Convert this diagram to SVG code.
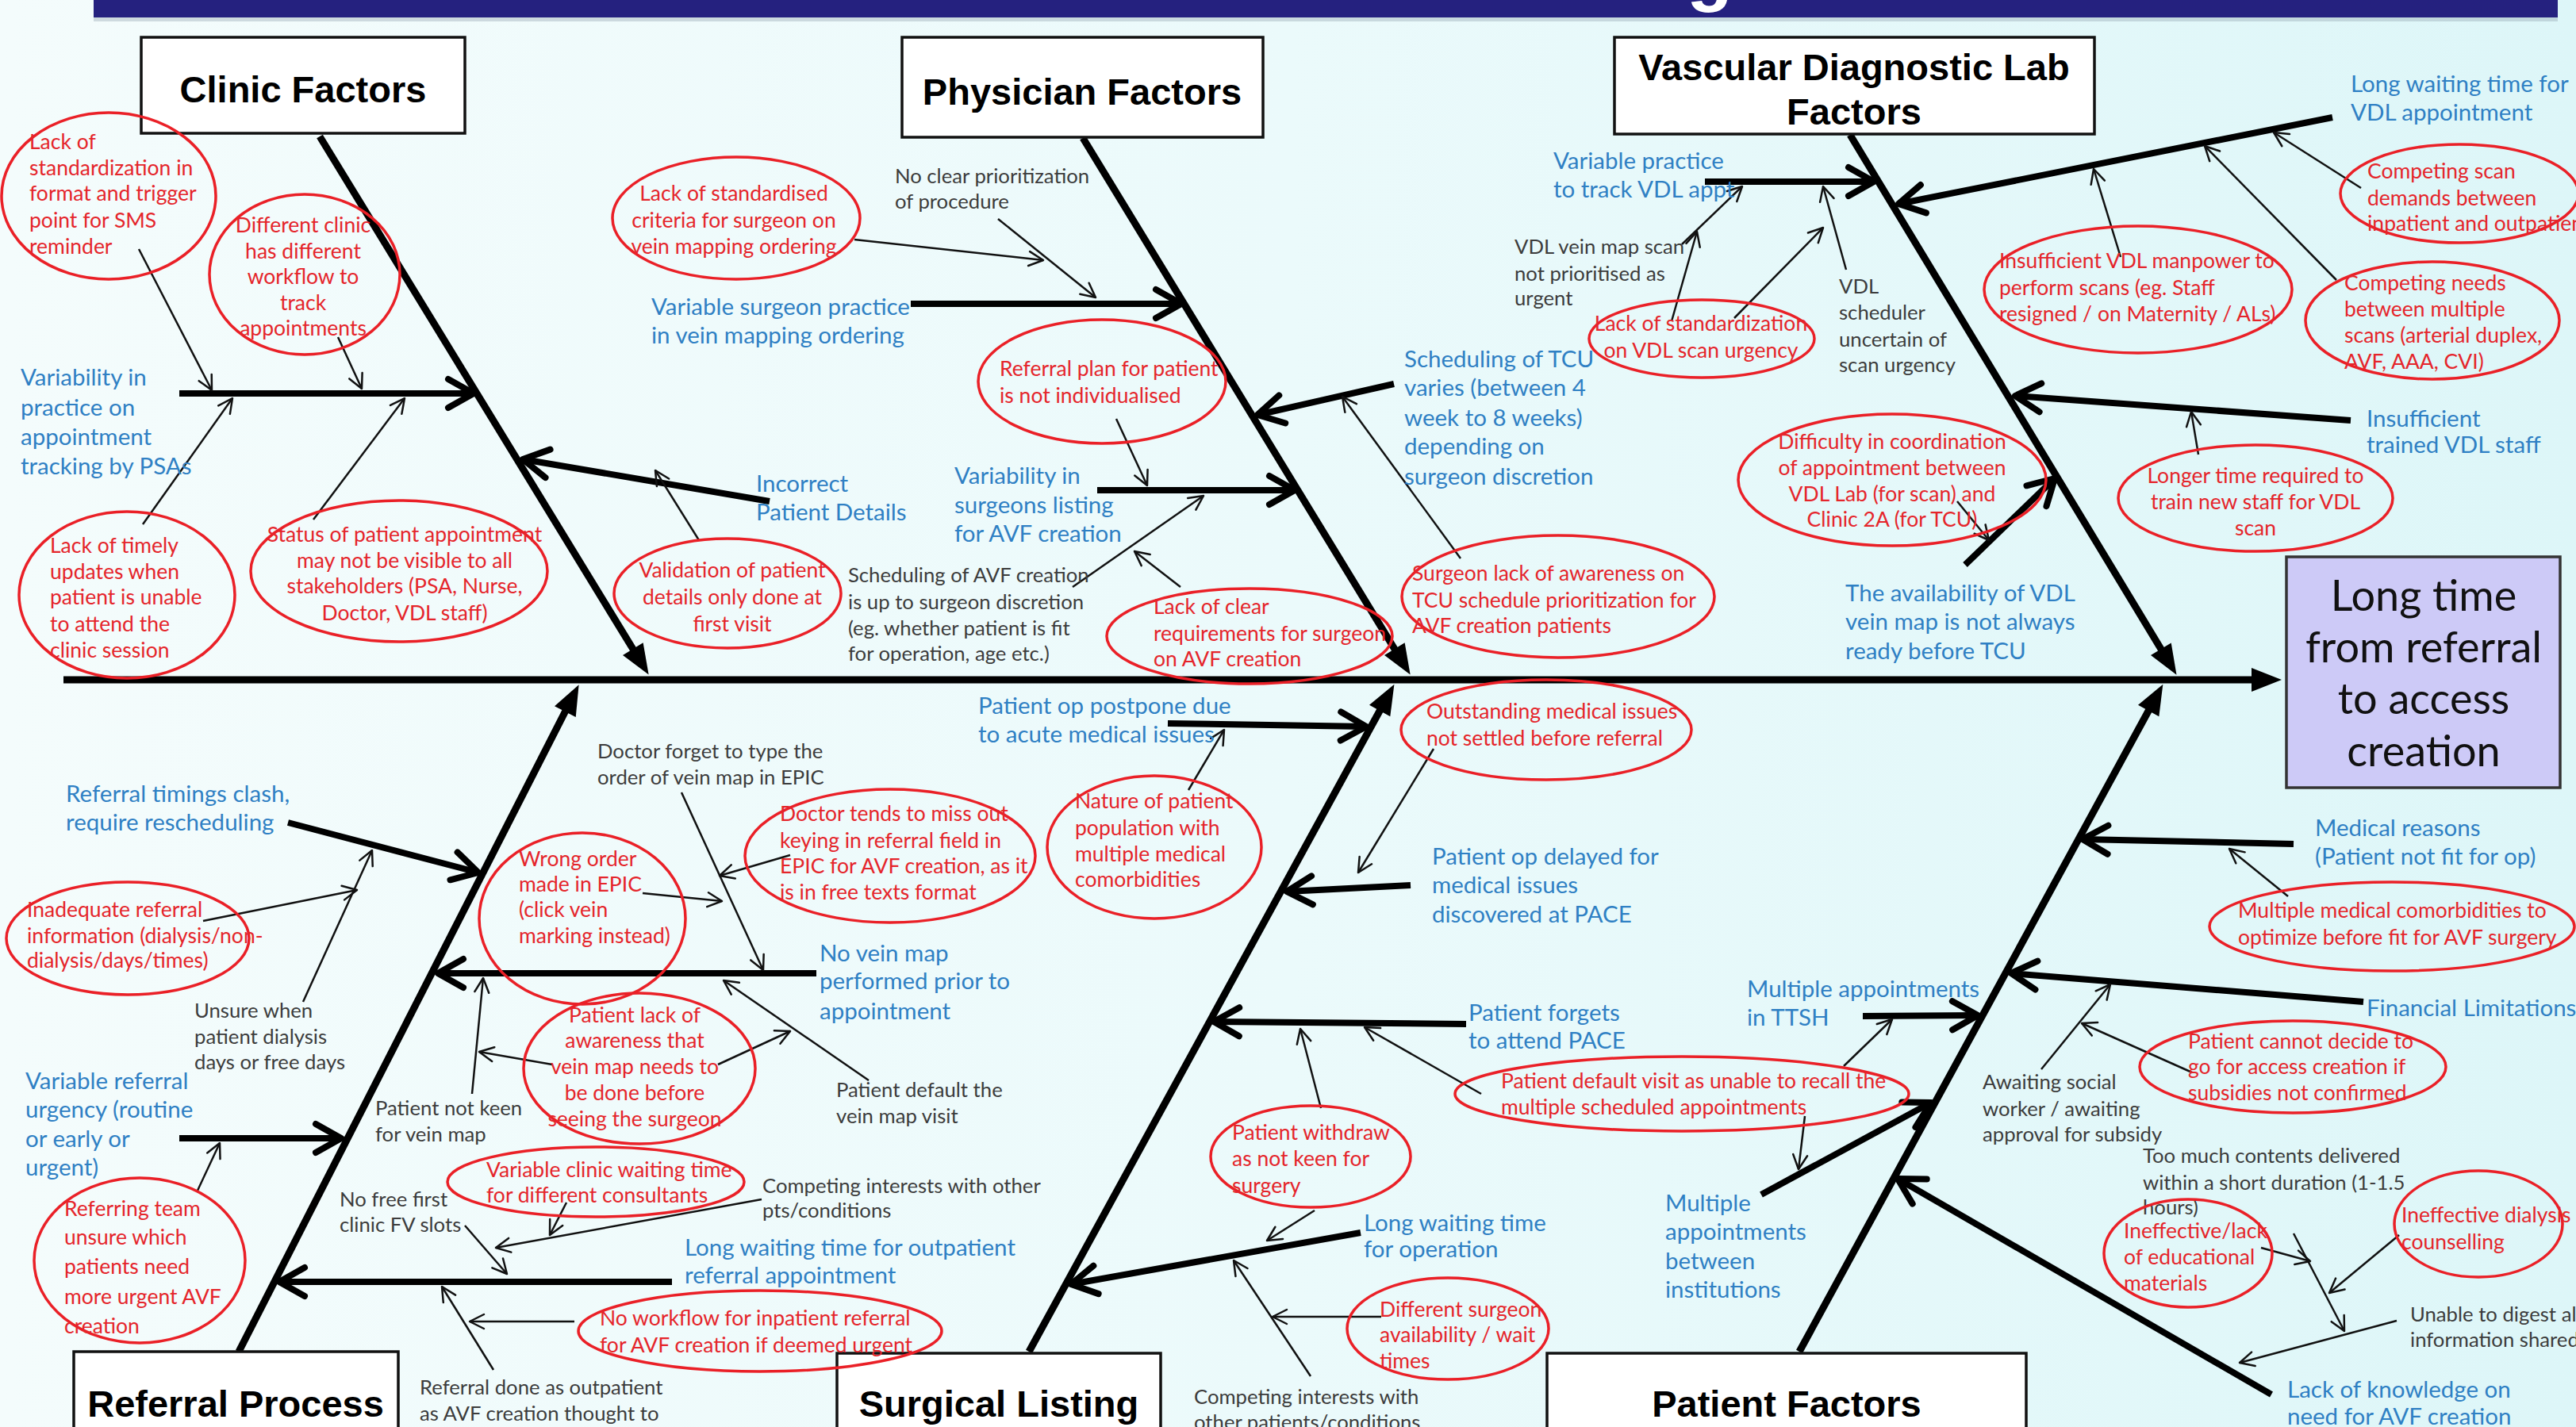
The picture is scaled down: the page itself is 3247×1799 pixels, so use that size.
<svg xmlns="http://www.w3.org/2000/svg" width="3247" height="1799" viewBox="0 0 3247 1799">
<defs>
<linearGradient id="bg" x1="0" y1="0" x2="1" y2="0">
<stop offset="0" stop-color="#f4fcfc"/><stop offset="0.5" stop-color="#ebfafb"/><stop offset="1" stop-color="#ddf6f8"/>
</linearGradient>
<marker id="hb" markerUnits="userSpaceOnUse" viewBox="-10 -18 42 36" markerWidth="42" markerHeight="36" refX="0" refY="0" orient="auto" overflow="visible"><path d="M-8,-15 L30,0 L-8,15 Z" fill="#000"/></marker>
<marker id="ht" markerUnits="userSpaceOnUse" viewBox="-40 -24 46 48" markerWidth="46" markerHeight="48" refX="0" refY="0" orient="auto" overflow="visible"><path d="M-32,-18 L0,0 L-32,18" fill="none" stroke="#000" stroke-width="8" stroke-linecap="round" stroke-linejoin="round"/></marker>
<marker id="hn" markerUnits="userSpaceOnUse" viewBox="-22 -12 26 24" markerWidth="26" markerHeight="24" refX="0" refY="0" orient="auto" overflow="visible"><path d="M-18,-9 L0,0 L-18,9" fill="none" stroke="#111" stroke-width="2.5" stroke-linecap="round" stroke-linejoin="round"/></marker>
<style>
.bone{stroke:#000;stroke-width:9;fill:none;marker-end:url(#hb)}
.thk{stroke:#000;stroke-width:8;fill:none;marker-end:url(#ht)}
.thn{stroke:#111;stroke-width:2.5;fill:none;marker-end:url(#hn)}
.box{fill:#fff;stroke:#111;stroke-width:3.5}
.ttl{font-family:"Liberation Sans",Arial,sans-serif;font-weight:bold;font-size:47px;fill:#000;text-anchor:middle}
.b{font-family:Lato,"Open Sans",sans-serif;font-size:29.5px;fill:#2f80c4}
.r{font-family:Lato,"Open Sans",sans-serif;font-size:26.5px;fill:#e5252b}
.g{font-family:Lato,"Open Sans",sans-serif;font-size:25.7px;fill:#3c3c3c}
.m{text-anchor:middle}
.e{fill:none;stroke:#ea2027;stroke-width:3.5}
.eff{font-family:Lato,"Open Sans",sans-serif;font-size:54px;fill:#111;text-anchor:middle}
</style>
</defs>
<rect x="0" y="0" width="3247" height="1799" fill="url(#bg)"/>
<g id="banner">
<rect x="118" y="22" width="3106" height="5" fill="#8a9aa8" opacity="0.35"/>
<rect x="118" y="0" width="3106" height="22" fill="#25217f"/>
<text x="2126" y="-4" font-family="Liberation Sans,Arial,sans-serif" font-weight="bold" font-size="95" fill="#fff">g</text>
</g>

<g id="connectors">
<line class="bone" x1="80" y1="857" x2="2846" y2="857"/>
<line class="bone" x1="403" y1="172" x2="802" y2="825"/>
<line class="bone" x1="1365" y1="174" x2="1762" y2="825"/>
<line class="bone" x1="2332" y1="170" x2="2728" y2="825"/>
<line class="bone" x1="301" y1="1704" x2="716" y2="890"/>
<line class="bone" x1="1297" y1="1704" x2="1743" y2="889"/>
<line class="bone" x1="2268" y1="1704" x2="2712" y2="889"/>

<line class="thk" x1="226" y1="496" x2="597" y2="496"/>
<line class="thk" x1="970" y1="632" x2="659" y2="579"/>
<line class="thk" x1="1148" y1="383" x2="1489" y2="383"/>
<line class="thk" x1="1383" y1="618" x2="1632" y2="618"/>
<line class="thk" x1="1757" y1="484" x2="1585" y2="523"/>
<line class="thk" x1="2149" y1="229" x2="2362" y2="229"/>
<line class="thk" x1="2940" y1="148" x2="2393" y2="257"/>
<line class="thk" x1="2963" y1="530" x2="2540" y2="499"/>
<line class="thk" x1="2477" y1="712" x2="2590" y2="603"/>
<line class="thk" x1="363" y1="1037" x2="603" y2="1100"/>
<line class="thk" x1="226" y1="1435" x2="430" y2="1435"/>
<line class="thk" x1="1029" y1="1227" x2="552" y2="1227"/>
<line class="thk" x1="847" y1="1616" x2="352" y2="1616"/>
<line class="thk" x1="1472" y1="912" x2="1722" y2="916"/>
<line class="thk" x1="1778" y1="1116" x2="1622" y2="1124"/>
<line class="thk" x1="1848" y1="1291" x2="1530" y2="1288"/>
<line class="thk" x1="1715" y1="1554" x2="1350" y2="1619"/>
<line class="thk" x1="2348" y1="1281" x2="2493" y2="1280"/>
<line class="thk" x1="2220" y1="1506" x2="2434" y2="1390"/>
<line class="thk" x1="2891" y1="1064" x2="2625" y2="1058"/>
<line class="thk" x1="2979" y1="1263" x2="2535" y2="1227"/>
<line class="thk" x1="2863" y1="1758" x2="2392" y2="1486"/>

<line class="thn" x1="175" y1="314" x2="267" y2="492"/>
<line class="thn" x1="426" y1="425" x2="456" y2="490"/>
<line class="thn" x1="180" y1="661" x2="293" y2="502"/>
<line class="thn" x1="395" y1="655" x2="510" y2="502"/>
<line class="thn" x1="881" y1="681" x2="826" y2="593"/>
<line class="thn" x1="1077" y1="302" x2="1315" y2="328"/>
<line class="thn" x1="1258" y1="276" x2="1381" y2="375"/>
<line class="thn" x1="1407" y1="528" x2="1446" y2="612"/>
<line class="thn" x1="1352" y1="740" x2="1517" y2="625"/>
<line class="thn" x1="1488" y1="740" x2="1430" y2="695"/>
<line class="thn" x1="1841" y1="704" x2="1692" y2="500"/>
<line class="thn" x1="2120" y1="308" x2="2196" y2="235"/>
<line class="thn" x1="2107" y1="405" x2="2139" y2="292"/>
<line class="thn" x1="2186" y1="401" x2="2298" y2="287"/>
<line class="thn" x1="2327" y1="340" x2="2298" y2="235"/>
<line class="thn" x1="2673" y1="324" x2="2639" y2="213"/>
<line class="thn" x1="2945" y1="353" x2="2779" y2="184"/>
<line class="thn" x1="2976" y1="237" x2="2866" y2="167"/>
<line class="thn" x1="2771" y1="573" x2="2762" y2="519"/>
<line class="thn" x1="2467" y1="632" x2="2507" y2="681"/>
<line class="thn" x1="256" y1="1161" x2="450" y2="1122"/>
<line class="thn" x1="382" y1="1263" x2="469" y2="1072"/>
<line class="thn" x1="248" y1="1503" x2="277" y2="1441"/>
<line class="thn" x1="859" y1="999" x2="962" y2="1223"/>
<line class="thn" x1="996" y1="1078" x2="907" y2="1104"/>
<line class="thn" x1="810" y1="1126" x2="910" y2="1136"/>
<line class="thn" x1="595" y1="1379" x2="609" y2="1233"/>
<line class="thn" x1="696" y1="1342" x2="604" y2="1326"/>
<line class="thn" x1="905" y1="1342" x2="996" y2="1300"/>
<line class="thn" x1="1095" y1="1362" x2="912" y2="1236"/>
<line class="thn" x1="586" y1="1545" x2="639" y2="1606"/>
<line class="thn" x1="960" y1="1512" x2="625" y2="1573"/>
<line class="thn" x1="714" y1="1516" x2="693" y2="1557"/>
<line class="thn" x1="622" y1="1727" x2="557" y2="1622"/>
<line class="thn" x1="724" y1="1666" x2="592" y2="1666"/>
<line class="thn" x1="1498" y1="996" x2="1543" y2="920"/>
<line class="thn" x1="1807" y1="944" x2="1712" y2="1100"/>
<line class="thn" x1="1665" y1="1397" x2="1639" y2="1297"/>
<line class="thn" x1="1867" y1="1379" x2="1720" y2="1295"/>
<line class="thn" x1="1657" y1="1526" x2="1597" y2="1564"/>
<line class="thn" x1="1741" y1="1660" x2="1604" y2="1660"/>
<line class="thn" x1="1652" y1="1735" x2="1555" y2="1589"/>
<line class="thn" x1="2324" y1="1344" x2="2385" y2="1285"/>
<line class="thn" x1="2275" y1="1407" x2="2267" y2="1474"/>
<line class="thn" x1="2884" y1="1130" x2="2810" y2="1070"/>
<line class="thn" x1="2573" y1="1348" x2="2660" y2="1241"/>
<line class="thn" x1="2763" y1="1352" x2="2624" y2="1290"/>
<line class="thn" x1="3021" y1="1665" x2="2823" y2="1718"/>
<line class="thn" x1="2891" y1="1555" x2="2955" y2="1678"/>
<line class="thn" x1="2850" y1="1573" x2="2912" y2="1590"/>
<line class="thn" x1="3024" y1="1557" x2="2936" y2="1630"/>
</g>

<g id="effect">
<rect x="2882" y="702" width="345" height="291" fill="#cdcaf7" stroke="#333" stroke-width="3.5"/>
<text class="eff" x="3055" y="770">Long time</text>
<text class="eff" x="3055" y="835">from referral</text>
<text class="eff" x="3055" y="900">to access</text>
<text class="eff" x="3055" y="966">creation</text>
</g>

<g id="cat-clinic"><rect class="box" x="178" y="47" width="408" height="121"/><text class="ttl" x="382" y="129">Clinic Factors</text></g>
<g id="cat-physician"><rect class="box" x="1137" y="47" width="455" height="126"/><text class="ttl" x="1364" y="132">Physician Factors</text></g>
<g id="cat-vdl"><rect class="box" x="2035" y="47" width="605" height="122"/><text class="ttl" x="2337" y="101">Vascular Diagnostic Lab</text><text class="ttl" x="2337" y="157">Factors</text></g>
<g id="cat-referral"><rect class="box" x="93" y="1704" width="409" height="120"/><text class="ttl" x="297" y="1786">Referral Process</text></g>
<g id="cat-surgical"><rect class="box" x="1055" y="1706" width="408" height="120"/><text class="ttl" x="1259" y="1786">Surgical Listing</text></g>
<g id="cat-patient"><rect class="box" x="1950" y="1706" width="604" height="120"/><text class="ttl" x="2252" y="1786">Patient Factors</text></g>

<g id="causes">
<text class="b" x="26" y="486">Variability in</text>
<text class="b" x="26" y="524">practice on</text>
<text class="b" x="26" y="561">appointment</text>
<text class="b" x="26" y="598">tracking by PSAs</text>
<text class="b" x="953" y="620">Incorrect</text>
<text class="b" x="953" y="656">Patient Details</text>
<text class="b" x="821" y="397">Variable surgeon practice</text>
<text class="b" x="821" y="433">in vein mapping ordering</text>
<text class="b" x="1203" y="610">Variability in</text>
<text class="b" x="1203" y="647">surgeons listing</text>
<text class="b" x="1203" y="683">for AVF creation</text>
<text class="b" x="1770" y="463">Scheduling of TCU</text>
<text class="b" x="1770" y="499">varies (between 4</text>
<text class="b" x="1770" y="537">week to 8 weeks)</text>
<text class="b" x="1770" y="573">depending on</text>
<text class="b" x="1770" y="611">surgeon discretion</text>
<text class="b" x="1958" y="213">Variable practice</text>
<text class="b" x="1958" y="249">to track VDL appt</text>
<text class="b" x="2963" y="116">Long waiting time for</text>
<text class="b" x="2963" y="152">VDL appointment</text>
<text class="b" x="2983" y="538">Insufficient</text>
<text class="b" x="2983" y="571">trained VDL staff</text>
<text class="b" x="2326" y="758">The availability of VDL</text>
<text class="b" x="2326" y="794">vein map is not always</text>
<text class="b" x="2326" y="831">ready before TCU</text>
<text class="b" x="83" y="1011">Referral timings clash,</text>
<text class="b" x="83" y="1047">require rescheduling</text>
<text class="b" x="32" y="1373">Variable referral</text>
<text class="b" x="32" y="1409">urgency (routine</text>
<text class="b" x="32" y="1446">or early or</text>
<text class="b" x="32" y="1482">urgent)</text>
<text class="b" x="1033" y="1212">No vein map</text>
<text class="b" x="1033" y="1247">performed prior to</text>
<text class="b" x="1033" y="1285">appointment</text>
<text class="b" x="863" y="1583">Long waiting time for outpatient</text>
<text class="b" x="863" y="1618">referral appointment</text>
<text class="b" x="1233" y="900">Patient op postpone due</text>
<text class="b" x="1233" y="936">to acute medical issues</text>
<text class="b" x="1805" y="1090">Patient op delayed for</text>
<text class="b" x="1805" y="1126">medical issues</text>
<text class="b" x="1805" y="1163">discovered at PACE</text>
<text class="b" x="1851" y="1287">Patient forgets</text>
<text class="b" x="1851" y="1322">to attend PACE</text>
<text class="b" x="1719" y="1552">Long waiting time</text>
<text class="b" x="1719" y="1585">for operation</text>
<text class="b" x="2202" y="1257">Multiple  appointments</text>
<text class="b" x="2202" y="1293">in TTSH</text>
<text class="b" x="2099" y="1527">Multiple</text>
<text class="b" x="2099" y="1563">appointments</text>
<text class="b" x="2099" y="1600">between</text>
<text class="b" x="2099" y="1636">institutions</text>
<text class="b" x="2918" y="1054">Medical reasons</text>
<text class="b" x="2918" y="1090">(Patient not fit for op)</text>
<text class="b" x="2983" y="1281">Financial Limitations</text>
<text class="b" x="2883" y="1762">Lack of knowledge on</text>
<text class="b" x="2883" y="1796">need for AVF creation</text>
</g>

<g id="sub-causes">
<text class="g" x="1128" y="231">No clear prioritization</text>
<text class="g" x="1128" y="263">of procedure</text>
<text class="g" x="1069" y="734">Scheduling of AVF creation</text>
<text class="g" x="1069" y="768">is up to surgeon discretion</text>
<text class="g" x="1069" y="801">(eg. whether patient is fit</text>
<text class="g" x="1069" y="833">for operation, age etc.)</text>
<text class="g" x="1909" y="320">VDL vein map scan</text>
<text class="g" x="1909" y="354">not prioritised as</text>
<text class="g" x="1909" y="385">urgent</text>
<text class="g" x="2318" y="370">VDL</text>
<text class="g" x="2318" y="403">scheduler</text>
<text class="g" x="2318" y="437">uncertain of</text>
<text class="g" x="2318" y="469">scan urgency</text>
<text class="g" x="753" y="956">Doctor forget to type the</text>
<text class="g" x="753" y="989">order of vein map in EPIC</text>
<text class="g" x="245" y="1283">Unsure when</text>
<text class="g" x="245" y="1316">patient dialysis</text>
<text class="g" x="245" y="1348">days or free days</text>
<text class="g" x="473" y="1406">Patient not keen</text>
<text class="g" x="473" y="1439">for vein map</text>
<text class="g" x="1054" y="1383">Patient default the</text>
<text class="g" x="1054" y="1416">vein map visit</text>
<text class="g" x="428" y="1521">No free first</text>
<text class="g" x="428" y="1553">clinic FV slots</text>
<text class="g" x="961" y="1504">Competing interests with other</text>
<text class="g" x="961" y="1535">pts/conditions</text>
<text class="g" x="529" y="1758">Referral done as outpatient</text>
<text class="g" x="529" y="1791">as AVF creation thought to</text>
<text class="g" x="1505" y="1770">Competing interests with</text>
<text class="g" x="1505" y="1802">other patients/conditions</text>
<text class="g" x="2499" y="1373">Awaiting social</text>
<text class="g" x="2499" y="1407">worker / awaiting</text>
<text class="g" x="2499" y="1439">approval for subsidy</text>
<text class="g" x="2701" y="1466">Too much contents delivered</text>
<text class="g" x="2701" y="1500">within a short duration (1-1.5</text>
<text class="g" x="2701" y="1531">hours)</text>
<text class="g" x="3038" y="1666">Unable to digest all</text>
<text class="g" x="3038" y="1698">information shared</text>
</g>

<g id="root-causes">
<g id="e1"><ellipse class="e" cx="137" cy="247" rx="135" ry="105"/><text class="r" x="37" y="188">Lack of</text><text class="r" x="37" y="221">standardization in</text><text class="r" x="37" y="253">format and trigger</text><text class="r" x="37" y="287">point for SMS</text><text class="r" x="37" y="320">reminder</text></g>
<g id="e2"><ellipse class="e" cx="384" cy="346" rx="120" ry="101"/><text class="r m" x="382" y="293">Different clinic</text><text class="r m" x="382" y="326">has different</text><text class="r m" x="382" y="358">workflow to</text><text class="r m" x="382" y="391">track</text><text class="r m" x="382" y="423">appointments</text></g>
<g id="e3"><ellipse class="e" cx="160" cy="750" rx="136" ry="105"/><text class="r" x="63" y="697">Lack of timely</text><text class="r" x="63" y="730">updates when</text><text class="r" x="63" y="762">patient is unable</text><text class="r" x="63" y="796">to attend the</text><text class="r" x="63" y="829">clinic session</text></g>
<g id="e4"><ellipse class="e" cx="503" cy="720" rx="187" ry="89"/><text class="r m" x="510" y="683">Status of patient appointment</text><text class="r m" x="510" y="716">may not be visible to all</text><text class="r m" x="510" y="748">stakeholders (PSA, Nurse,</text><text class="r m" x="510" y="782">Doctor, VDL staff)</text></g>
<g id="e5"><ellipse class="e" cx="917" cy="748" rx="143" ry="69"/><text class="r m" x="923" y="728">Validation of patient</text><text class="r m" x="923" y="762">details only done at</text><text class="r m" x="923" y="796">first visit</text></g>
<g id="e6"><ellipse class="e" cx="928" cy="275" rx="156" ry="77"/><text class="r m" x="925" y="253">Lack of standardised</text><text class="r m" x="925" y="287">criteria for surgeon on</text><text class="r m" x="925" y="320">vein mapping ordering</text></g>
<g id="e7"><ellipse class="e" cx="1389" cy="481" rx="156" ry="78"/><text class="r" x="1260" y="474">Referral plan for patient</text><text class="r" x="1260" y="508">is not individualised</text></g>
<g id="e8"><ellipse class="e" cx="1575" cy="802" rx="180" ry="60"/><text class="r" x="1454" y="774">Lack of clear</text><text class="r" x="1454" y="808">requirements for surgeon</text><text class="r" x="1454" y="840">on AVF creation</text></g>
<g id="e9"><ellipse class="e" cx="1964" cy="752" rx="197" ry="77"/><text class="r" x="1780" y="732">Surgeon lack of awareness on</text><text class="r" x="1780" y="766">TCU schedule prioritization for</text><text class="r" x="1780" y="798">AVF creation patients</text></g>
<g id="e10"><ellipse class="e" cx="2145" cy="427" rx="142" ry="49"/><text class="r m" x="2144" y="417">Lack of standardization</text><text class="r m" x="2144" y="451">on VDL scan urgency</text></g>
<g id="e11"><ellipse class="e" cx="2695" cy="365" rx="194" ry="80"/><text class="r" x="2520" y="338">Insufficient VDL manpower to</text><text class="r" x="2520" y="372">perform scans (eg. Staff</text><text class="r" x="2520" y="405">resigned / on Maternity / ALs)</text></g>
<g id="e12"><ellipse class="e" cx="3066" cy="404" rx="160" ry="74"/><text class="r" x="2955" y="366">Competing needs</text><text class="r" x="2955" y="399">between multiple</text><text class="r" x="2955" y="432">scans (arterial duplex,</text><text class="r" x="2955" y="465">AVF, AAA, CVI)</text></g>
<g id="e13"><ellipse class="e" cx="3100" cy="244" rx="150" ry="62"/><text class="r" x="2984" y="225">Competing scan</text><text class="r" x="2984" y="259">demands between</text><text class="r" x="2984" y="291">inpatient and outpatient</text></g>
<g id="e14"><ellipse class="e" cx="2843" cy="628" rx="173" ry="67"/><text class="r m" x="2843" y="609">Longer time required to</text><text class="r m" x="2843" y="642">train new staff for VDL</text><text class="r m" x="2843" y="675">scan</text></g>
<g id="e15"><ellipse class="e" cx="2385" cy="605" rx="194" ry="83"/><text class="r m" x="2385" y="566">Difficulty in coordination</text><text class="r m" x="2385" y="599">of appointment between</text><text class="r m" x="2385" y="632">VDL Lab  (for scan) and</text><text class="r m" x="2385" y="664">Clinic 2A (for TCU)</text></g>
<g id="e16"><ellipse class="e" cx="161" cy="1183" rx="153" ry="71"/><text class="r" x="34" y="1156">Inadequate referral</text><text class="r" x="34" y="1189">information (dialysis/non-</text><text class="r" x="34" y="1220">dialysis/days/times)</text></g>
<g id="e17"><ellipse class="e" cx="176" cy="1589" rx="133" ry="104"/><text class="r" x="81" y="1533" font-size="30">Referring team</text><text class="r" x="81" y="1569" font-size="30">unsure which</text><text class="r" x="81" y="1606" font-size="30">patients need</text><text class="r" x="81" y="1644" font-size="30">more urgent AVF</text><text class="r" x="81" y="1681" font-size="30">creation</text></g>
<g id="e18"><ellipse class="e" cx="734" cy="1158" rx="130" ry="108"/><text class="r" x="654" y="1092">Wrong order</text><text class="r" x="654" y="1124">made in EPIC</text><text class="r" x="654" y="1156">(click vein</text><text class="r" x="654" y="1189">marking instead)</text></g>
<g id="e19"><ellipse class="e" cx="1122" cy="1079" rx="183" ry="84"/><text class="r" x="983" y="1035">Doctor tends to miss out</text><text class="r" x="983" y="1069">keying in referral field in</text><text class="r" x="983" y="1101">EPIC for AVF creation, as it</text><text class="r" x="983" y="1134">is in free  texts format</text></g>
<g id="e20"><ellipse class="e" cx="1455" cy="1068" rx="135" ry="90"/><text class="r" x="1355" y="1019">Nature of patient</text><text class="r" x="1355" y="1053">population with</text><text class="r" x="1355" y="1086">multiple medical</text><text class="r" x="1355" y="1118">comorbidities</text></g>
<g id="e21"><ellipse class="e" cx="806" cy="1347" rx="146" ry="95"/><text class="r m" x="800" y="1289">Patient lack of</text><text class="r m" x="800" y="1321">awareness that</text><text class="r m" x="800" y="1354">vein map needs to</text><text class="r m" x="800" y="1387">be done before</text><text class="r m" x="800" y="1420">seeing the surgeon</text></g>
<g id="e22"><ellipse class="e" cx="751" cy="1490" rx="187" ry="44"/><text class="r" x="613" y="1484">Variable clinic waiting time</text><text class="r" x="613" y="1516">for different consultants</text></g>
<g id="e23"><ellipse class="e" cx="958" cy="1678" rx="229" ry="51"/><text class="r" x="756" y="1671">No workflow for inpatient referral</text><text class="r" x="756" y="1705">for AVF creation if deemed urgent</text></g>
<g id="e24"><ellipse class="e" cx="1949" cy="920" rx="183" ry="63"/><text class="r" x="1798" y="906">Outstanding medical issues</text><text class="r" x="1798" y="940">not settled before referral</text></g>
<g id="e25"><ellipse class="e" cx="1652" cy="1458" rx="126" ry="64"/><text class="r" x="1553" y="1437">Patient withdraw</text><text class="r" x="1553" y="1470">as not keen for</text><text class="r" x="1553" y="1504">surgery</text></g>
<g id="e26"><ellipse class="e" cx="1825" cy="1675" rx="127" ry="64"/><text class="r" x="1739" y="1660">Different surgeon</text><text class="r" x="1739" y="1692">availability / wait</text><text class="r" x="1739" y="1725">times</text></g>
<g id="e27"><ellipse class="e" cx="2120" cy="1379" rx="286" ry="47"/><text class="r" x="1892" y="1372">Patient default visit as unable to recall the</text><text class="r" x="1892" y="1405">multiple scheduled appointments</text></g>
<g id="e28"><ellipse class="e" cx="3015" cy="1168" rx="230" ry="56"/><text class="r" x="2821" y="1157">Multiple medical comorbidities to</text><text class="r" x="2821" y="1191">optimize before fit for AVF surgery</text></g>
<g id="e29"><ellipse class="e" cx="2890" cy="1345" rx="193" ry="58"/><text class="r" x="2758" y="1322">Patient cannot decide to</text><text class="r" x="2758" y="1354">go for access creation if</text><text class="r" x="2758" y="1387">subsidies not confirmed</text></g>
<g id="e30"><ellipse class="e" cx="2758" cy="1580" rx="106" ry="68"/><text class="r" x="2677" y="1561">Ineffective/lack</text><text class="r" x="2677" y="1594">of  educational</text><text class="r" x="2677" y="1627">materials</text></g>
<g id="e31"><ellipse class="e" cx="3124" cy="1543" rx="106" ry="67"/><text class="r" x="3027" y="1541">Ineffective dialysis</text><text class="r" x="3027" y="1575">counselling</text></g>
</g>
</svg>
